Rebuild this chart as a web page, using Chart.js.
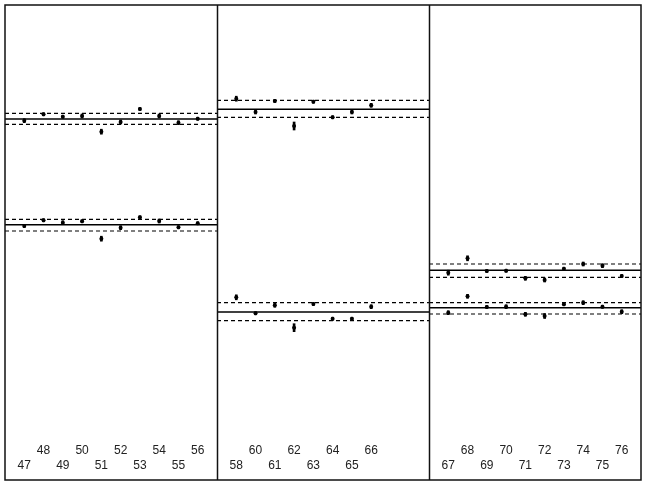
<!DOCTYPE html>
<html>
<head>
<meta charset="utf-8">
<script src="https://cdn.jsdelivr.net/npm/chart.js@4/dist/chart.umd.min.js"></script>
<style>
  body { margin: 0; background: #fff; }
  #wrap { width: 646px; height: 485px; }
</style>
</head>
<body>
<div id="wrap"><canvas id="chart" width="646" height="485"></canvas></div>
<script>
// categories for the three panels
const labels1 = ['47', '48', '49', '50', '51', '52', '53', '54', '55', '56'];
const labels2 = ['58', '60', '61', '62', '63', '64', '65', '66'];
const labels3 = ['67', '68', '69', '70', '71', '72', '73', '74', '75', '76'];

// upper series (points) per panel
const upper1 = [319.3, 325.7, 323.3, 324, 308.3, 318, 331, 324, 317.3, 321.3];
const upper2 = [341.3, 328, 339, 314, 338.3, 322.7, 328, 334.7];
const upper3 = [167.3, 181.7, 169, 169.3, 161.7, 160, 171.3, 176, 174.3, 164];

// lower series (points) per panel
const lower1 = [214, 219.7, 217.3, 218.7, 201.3, 212.3, 222.7, 219, 212.7, 216.7];
const lower2 = [142.7, 126.7, 134.7, 112.3, 136, 121.3, 121.3, 133.3];
const lower3 = [127.3, 143.7, 133, 133.3, 125.7, 124, 135.7, 137.3, 133.3, 128.3];

// half length of the error bars
const upperErr1 = [2, 1.5, 1.5, 2, 2.5, 2, 1.5, 2, 2, 1.5];
const upperErr2 = [2.5, 2, 1.5, 4, 1.5, 1.5, 2, 2];
const upperErr3 = [2.5, 2.5, 1.5, 1.5, 2, 2, 1.5, 2, 2, 1.5];
const lowerErr1 = [1.5, 1.5, 2, 1.5, 2.5, 2, 1.5, 2, 1.5, 1.5];
const lowerErr2 = [2.5, 1.5, 2, 4, 1.5, 1.5, 1.5, 2];
const lowerErr3 = [2, 2, 1.5, 2, 2, 2.5, 1.5, 2, 1.5, 2];

// centre line and limits: [lower limit, centre, upper limit]
const upperLimits = [[315.7, 321, 326.7], [322.7, 330.7, 339.7], [162.7, 169.7, 176]];
const lowerLimits = [[209, 215.3, 220.7], [119.3, 128, 137.3], [126, 132.3, 137.3]];

const panels = [
  { labels: labels1, start: 0, up: upper1, lo: lower1, upE: upperErr1, loE: lowerErr1 },
  { labels: labels2, start: 11, up: upper2, lo: lower2, upE: upperErr2, loE: lowerErr2 },
  { labels: labels3, start: 22, up: upper3, lo: lower3, upE: upperErr3, loE: lowerErr3 }
];

const tickValues = [];
const tickText = {};
const datasets = [];

panels.forEach(function (p, pi) {
  const pts = (vals) => vals.map((v, i) => ({ x: p.start + 1 + i, y: v }));
  const bars = (vals, errs) => vals.map((v, i) => ({ x: p.start + 1 + i, y: [v - errs[i], v + errs[i]] }));

  p.labels.forEach(function (lab, i) {
    const x = p.start + 1 + i;
    tickValues.push(x);
    tickText[x] = i % 2 === 0 ? ['', lab] : [lab, ''];
  });

  [upperLimits[pi], lowerLimits[pi]].forEach(function (lim) {
    lim.forEach(function (v, k) {
      datasets.push({
        type: 'line',
        data: [{ x: p.start, y: v }, { x: p.start + 11, y: v }],
        borderColor: '#000',
        borderWidth: k === 1 ? 1.5 : 1.2,
        borderDash: k === 1 ? [] : [4, 3],
        pointRadius: 0,
        fill: false
      });
    });
  });

  datasets.push({ type: 'bar', data: bars(p.up, p.upE), backgroundColor: '#000', barThickness: 2, grouped: false });
  datasets.push({ type: 'bar', data: bars(p.lo, p.loE), backgroundColor: '#000', barThickness: 2, grouped: false });
  datasets.push({ type: 'scatter', data: pts(p.up), backgroundColor: '#000', borderWidth: 0, pointRadius: 2, showLine: false });
  datasets.push({ type: 'scatter', data: pts(p.lo), backgroundColor: '#000', borderWidth: 0, pointRadius: 2, showLine: false });
});

// frame round the panels, down past the tick labels
const framePlugin = {
  id: 'frame',
  afterDraw(chart) {
    const ctx = chart.ctx;
    const a = chart.chartArea;
    const xs = chart.scales.x;
    ctx.save();
    ctx.strokeStyle = '#111';
    ctx.lineWidth = 1.5;
    ctx.strokeRect(a.left, a.top, a.right - a.left, xs.bottom - a.top);
    [11, 22].forEach(function (v) {
      const px = Math.round(xs.getPixelForValue(v)) + 0.5;
      ctx.beginPath();
      ctx.moveTo(px, a.top);
      ctx.lineTo(px, xs.bottom);
      ctx.stroke();
    });
    ctx.restore();
  }
};

new Chart(document.getElementById('chart'), {
  type: 'scatter',
  data: { datasets: datasets },
  options: {
    responsive: false,
    animation: false,
    layout: { padding: { top: 5, left: 5, right: 5, bottom: 5 } },
    plugins: { legend: { display: false }, tooltip: { enabled: false } },
    scales: {
      x: {
        type: 'linear',
        min: 0,
        max: 33,
        offset: false,
        grid: { display: false, drawTicks: false },
        border: { display: false },
        afterFit: function (scale) { scale.height = 40; },
        afterBuildTicks: function (scale) {
          scale.ticks = tickValues.map(v => ({ value: v }));
        },
        ticks: {
          autoSkip: false,
          maxRotation: 0,
          padding: 3,
          color: '#222',
          font: { family: 'Liberation Sans, Arial, sans-serif', size: 12, lineHeight: 1.25 },
          callback: function (value) { return tickText[value] || ''; }
        }
      },
      y: {
        display: false,
        min: 0,
        max: 435
      }
    }
  },
  plugins: [framePlugin]
});
</script>
</body>
</html>
